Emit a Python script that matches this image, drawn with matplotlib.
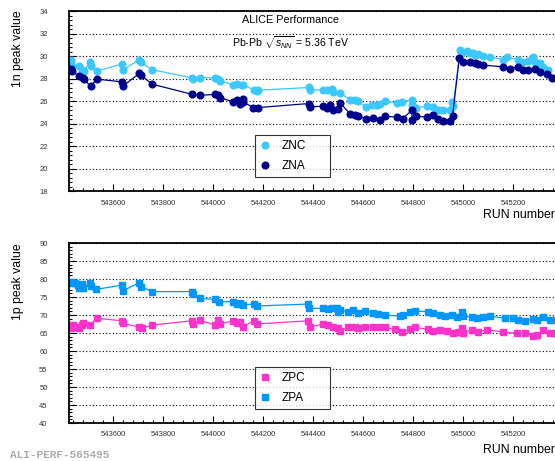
import matplotlib
matplotlib.use("Agg")
import matplotlib.pyplot as plt
from matplotlib.ticker import MultipleLocator

# ---- data ----
znc_run = [543432, 543433, 543436, 543464, 543475, 543484, 543508, 543511, 543535,
           543635, 543639, 543705, 543711, 543757, 543915, 543919, 543948, 544008,
           544021, 544028, 544081, 544095, 544115, 544121, 544165, 544175, 544181,
           544384, 544386, 544441, 544455, 544475, 544481, 544508, 544548, 544568,
           544581, 544612, 544635, 544655, 544668, 544688, 544735, 544755, 544795,
           544797, 544812, 544855, 544881, 544901, 544921, 544948, 544955, 544961,
           544988, 544995, 545015, 545028, 545041, 545048, 545061, 545081, 545108,
           545161, 545175, 545221, 545241, 545261, 545281, 545288, 545308, 545321,
           545341, 545359]
znc_val = [29.64, 29.35, 29.05, 29.10, 28.75, 28.70, 29.50, 29.15, 28.67,
           29.30, 28.75, 29.70, 29.45, 28.80, 28.07, 27.96, 28.07, 28.07,
           28.00, 27.78, 27.48, 27.57, 27.42, 27.48, 26.98, 26.89, 26.98,
           27.22, 27.04, 26.98, 27.04, 27.13, 26.83, 26.74, 26.15, 26.09,
           26.00, 25.50, 25.64, 25.64, 25.80, 26.02, 25.85, 25.94, 26.15,
           25.64, 25.44, 25.56, 25.50, 25.26, 25.20, 25.20, 25.94, 25.56,
           30.53, 30.24, 30.47, 30.24, 30.30, 30.09, 30.15, 30.00, 29.94,
           29.70, 29.88, 29.70, 29.50, 29.58, 29.88, 29.50, 29.35, 29.05,
           28.76, 28.02]

zna_run = [543432, 543436, 543464, 543479, 543484, 543511, 543535, 543637, 543639,
           543705, 543711, 543757, 543915, 543948, 544008, 544021, 544028, 544081,
           544095, 544108, 544118, 544121, 544161, 544181, 544384, 544386, 544441,
           544455, 544468, 544481, 544501, 544508, 544548, 544568, 544581, 544612,
           544641, 544668, 544688, 544735, 544759, 544795, 544797, 544812, 544855,
           544881, 544901, 544921, 544948, 544958, 544985, 544999, 545028, 545048,
           545061, 545081, 545161, 545188, 545221, 545241, 545261, 545288, 545308,
           545335, 545355]
zna_val = [28.90, 28.70, 28.22, 28.10, 27.93, 27.33, 27.96, 27.72, 27.33,
           28.46, 28.31, 27.51, 26.62, 26.53, 26.60, 26.53, 26.33, 25.94,
           26.09, 25.80, 26.24, 25.94, 25.44, 25.44, 25.80, 25.50, 25.56,
           25.44, 25.64, 25.20, 25.35, 25.85, 24.90, 24.76, 24.67, 24.46,
           24.55, 24.37, 24.67, 24.60, 24.46, 25.20, 24.31, 24.67, 24.60,
           24.76, 24.46, 24.25, 24.25, 24.67, 29.80, 29.50, 29.50, 29.40,
           29.26, 29.20, 29.05, 28.90, 29.05, 28.76, 28.76, 28.82, 28.60,
           28.40, 28.02]

zpa_run = [543432, 543434, 543448, 543461, 543465, 543475, 543481, 543508, 543511,
           543532, 543635, 543639, 543705, 543711, 543757, 543915, 543919, 543948,
           544008, 544025, 544081, 544097, 544108, 544119, 544165, 544177, 544381,
           544385, 544441, 544461, 544475, 544495, 544501, 544508, 544541, 544561,
           544581, 544608, 544641, 544661, 544688, 544748, 544761, 544788, 544808,
           544861, 544881, 544908, 544928, 544955, 544975, 544995, 545001, 545035,
           545055, 545081, 545108, 545168, 545201, 545221, 545248, 545281, 545295,
           545321, 545348, 545361]
zpa_val = [78.80, 79.25, 78.80, 78.30, 77.40, 78.60, 77.40, 79.00, 78.05,
           77.10, 78.30, 76.70, 79.00, 77.90, 76.50, 76.50, 75.70, 74.60,
           74.35, 73.70, 73.70, 73.05, 73.40, 72.80, 73.05, 72.50, 73.05,
           71.85, 71.85, 71.60, 71.85, 72.00, 70.90, 71.40, 70.90, 71.40,
           70.65, 71.10, 70.65, 70.30, 70.00, 69.70, 70.00, 70.90, 71.10,
           70.90, 70.45, 70.00, 69.70, 70.00, 69.55, 70.90, 69.70, 69.35,
           69.10, 69.35, 69.70, 69.10, 69.10, 68.60, 68.40, 68.80, 68.60,
           69.35, 68.60, 68.60]

zpc_run = [543432, 543441, 543455, 543465, 543475, 543481, 543508, 543535, 543635,
           543639, 543705, 543715, 543757, 543915, 543919, 543948, 544008, 544021,
           544028, 544081, 544095, 544108, 544119, 544165, 544177, 544381, 544388,
           544441, 544461, 544481, 544501, 544508, 544541, 544568, 544581, 544608,
           544641, 544668, 544688, 544728, 544755, 544788, 544808, 544861, 544881,
           544908, 544935, 544961, 544981, 544995, 545001, 545035, 545061, 545095,
           545161, 545215, 545248, 545281, 545295, 545321, 545348, 545361]
zpc_val = [66.30, 67.20, 66.75, 66.30, 67.20, 67.85, 67.20, 69.10, 68.40,
           67.70, 66.60, 66.30, 67.20, 68.40, 67.50, 68.60, 67.20, 68.60,
           67.50, 68.40, 67.70, 68.10, 66.75, 68.40, 67.50, 68.40, 66.60,
           67.50, 67.20, 66.75, 66.30, 65.65, 66.60, 66.75, 66.30, 66.75,
           66.75, 66.60, 66.60, 66.00, 65.35, 66.00, 66.60, 66.00, 65.65,
           65.85, 65.55, 65.10, 65.35, 66.30, 65.10, 65.85, 65.35, 65.85,
           65.35, 64.90, 64.90, 64.20, 64.45, 65.85, 64.90, 64.90]

x_ticks = [543600, 543800, 544000, 544200, 544400, 544600, 544800, 545000, 545200]

# colours
c_znc = "#3cc8ff"
c_zna = "#00008c"
c_zpc = "#ff33cc"
c_zpa = "#0096ff"

W, H = 555, 461
xmin, xmax = 543422, 545376
AX_L, AX_R = 68.5, 557


def style_axes(ax, ymin, ymax, ymajor, yminor):
    ax.set_xlim(xmin, xmax)
    ax.set_ylim(ymin, ymax)
    ax.set_xticks(x_ticks)
    ax.xaxis.set_minor_locator(MultipleLocator(40))
    ax.yaxis.set_major_locator(MultipleLocator(ymajor))
    ax.yaxis.set_minor_locator(MultipleLocator(yminor))
    ax.tick_params(axis="both", which="both", direction="in", top=False, right=False,
                   labelsize=5.5, labelcolor="#333333", width=0.8)
    ax.tick_params(axis="both", which="major", length=5)
    ax.tick_params(axis="both", which="minor", length=2.5)
    ax.tick_params(axis="y", which="major", pad=15)
    ax.tick_params(axis="x", which="major", pad=6)
    ax.grid(True, axis="y", which="major", color="black", linestyle=(0, (1, 2)), linewidth=0.8)
    for s in ax.spines.values():
        s.set_linewidth(1.3)


def add_legend(ax, top_px, ax_top_px, ax_h_px):
    # legend box spans 255..330 px horizontally, 42 px tall
    x0 = (255 - AX_L) / (AX_R - AX_L)
    w = 75 / (AX_R - AX_L)
    y1 = 1 - (top_px - ax_top_px) / ax_h_px
    h = 42 / ax_h_px
    leg = ax.legend(loc="upper left", bbox_to_anchor=(x0, y1 - h, w, h), mode="expand",
                    frameon=True, fancybox=False, edgecolor="black", fontsize=8.5,
                    handlelength=0.8, handletextpad=1.0, borderpad=0.45, labelspacing=0.65,
                    borderaxespad=0)
    leg.get_frame().set_linewidth(0.8)
    for h_ in leg.legend_handles:
        h_.set_linestyle("none")
    leg.set_zorder(5)


def main():
    plt.rcParams["font.family"] = "Liberation Sans"
    plt.rcParams["mathtext.fontset"] = "custom"
    plt.rcParams["mathtext.rm"] = "Liberation Sans"
    plt.rcParams["mathtext.it"] = "Liberation Sans:italic"

    fig = plt.figure(figsize=(W / 100, H / 100), dpi=100)
    left = AX_L / W
    width = (AX_R - AX_L) / W

    # ---- top panel: neutron calorimeters ----
    ax1 = fig.add_axes([left, 1 - 191.5 / H, width, 180.5 / H])
    style_axes(ax1, 18, 34, 2, 0.4)
    ax1.plot(znc_run, znc_val, "-o", color=c_znc, ms=4.8, lw=0.9, label="ZNC")
    ax1.plot(zna_run, zna_val, "-o", color=c_zna, ms=4.8, lw=0.9, label="ZNA")
    add_legend(ax1, 135, 11, 180.5)

    fig.text(291 / W, 1 - 20 / H, "ALICE Performance", ha="center", va="center", fontsize=7.8)
    fig.text(232 / W, 1 - 43 / H, r"Pb-Pb $\sqrt{s_{NN}}$ = 5.36 TeV", ha="left", va="center", fontsize=7.6)
    fig.text(18 / W, 1 - 10 / H, "1n peak value", rotation=90, ha="center", va="top", fontsize=8.8)
    fig.text(555 / W, 1 - 215 / H, "RUN number", ha="right", va="center", fontsize=8.8)

    # ---- bottom panel: proton calorimeters ----
    ax2 = fig.add_axes([left, 1 - 423 / H, width, 180 / H])
    style_axes(ax2, 40, 90, 5, 1)
    ax2.plot(zpc_run, zpc_val, "-s", color=c_zpc, ms=4.4, lw=0.9, label="ZPC")
    ax2.plot(zpa_run, zpa_val, "-s", color=c_zpa, ms=4.4, lw=0.9, label="ZPA")
    add_legend(ax2, 367, 243, 180)

    fig.text(18 / W, 1 - 243 / H, "1p peak value", rotation=90, ha="center", va="top", fontsize=8.8)
    fig.text(555 / W, 1 - 450 / H, "RUN number", ha="right", va="center", fontsize=8.8)

    fig.text(10 / W, 1 - 455 / H, "ALI-PERF-565495", ha="left", va="center",
             fontsize=8, family="Liberation Mono", fontweight="bold", color="#aaaaaa")

    fig.savefig("out.png", dpi=100)


if __name__ == '__main__':
    main()
